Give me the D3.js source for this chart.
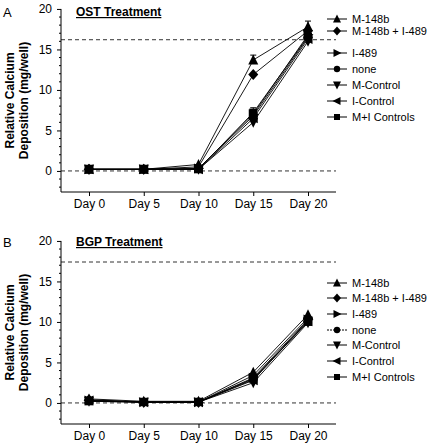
<!DOCTYPE html>
<html><head><meta charset="utf-8">
<script src="https://cdn.jsdelivr.net/npm/d3@7"></script>
<style>body{margin:0;background:#fff}svg{font-family:"Liberation Sans",Arial,Helvetica,sans-serif}</style>
</head><body><svg id="c" width="433" height="444"></svg>
<script>
const days = ["Day 0","Day 5","Day 10","Day 15","Day 20"];
const seriesNames = ["M-148b","M-148b + I-489","I-489","none","M-Control","I-Control","M+I Controls"];
const shapes = ["triUp","diamond","triRight","circle","triDown","triLeft","square"];
// Panel A: OST Treatment
const ostM148b      = [0.2, 0.2, 0.8, 13.7, 17.8];
const ostM148bI489  = [0.2, 0.2, 0.5, 11.9, 17.3];
const ostI489       = [0.2, 0.2, 0.3, 7.0, 16.8];
const ostNone       = [0.2, 0.2, 0.3, 6.8, 16.5];
const ostMControl   = [0.2, 0.2, 0.2, 6.0, 16.0];
const ostIControl   = [0.2, 0.2, 0.2, 6.5, 16.3];
const ostMIControls = [0.2, 0.2, 0.2, 7.2, 16.6];
const ostErr        = [0, 0, 0, 0.6, 0.7];
const ostRef = 16.2;
// Panel B: BGP Treatment
const bgpM148b      = [0.5, 0.2, 0.2, 3.8, 10.9];
const bgpM148bI489  = [0.4, 0.1, 0.1, 3.4, 10.5];
const bgpI489       = [0.3, 0.1, 0.1, 3.1, 10.3];
const bgpNone       = [0.3, 0.1, 0.1, 2.9, 10.2];
const bgpMControl   = [0.2, 0.1, 0.1, 2.5, 9.9];
const bgpIControl   = [0.3, 0.1, 0.1, 2.8, 10.1];
const bgpMIControls = [0.2, 0.1, 0.1, 3.0, 10.0];
const bgpRef = 17.4;
const yTicks = [0, 5, 10, 15, 20];

const svg = d3.select("#c");

function sym(g, shape, x, y, s) {
  const h = s/2;
  let d;
  if (shape === "triUp") d = `M${x},${y-h-1}L${x+h+0.5},${y+h}L${x-h-0.5},${y+h}Z`;
  else if (shape === "triDown") d = `M${x},${y+h+1}L${x+h+0.5},${y-h}L${x-h-0.5},${y-h}Z`;
  else if (shape === "triRight") d = `M${x+h+1},${y}L${x-h},${y-h-0.5}L${x-h},${y+h+0.5}Z`;
  else if (shape === "triLeft") d = `M${x-h-1},${y}L${x+h},${y-h-0.5}L${x+h},${y+h+0.5}Z`;
  else if (shape === "diamond") d = `M${x},${y-h-1}L${x+h+0.5},${y}L${x},${y+h+1}L${x-h-0.5},${y}Z`;
  else if (shape === "square") d = `M${x-h+0.5},${y-h+0.5}h${s-1}v${s-1}h${-(s-1)}Z`;
  if (shape === "circle") g.append("circle").attr("cx", x).attr("cy", y).attr("r", h-0.3).attr("fill","#000");
  else g.append("path").attr("d", d).attr("fill", "#000");
}

function panel(opt) {
  const g = svg.append("g");
  const x = d3.scalePoint().domain(days).range([89, 308]);
  const y = d3.scaleLinear().domain([-2.6, 20]).range([opt.bottom, opt.bottom - 22.6*8.1]);
  const xL = 61, xR = 336;
  [0, opt.ref].forEach(v => {
    g.append("line").attr("x1", xL).attr("x2", xR).attr("y1", y(v)).attr("y2", y(v))
      .attr("stroke", "#333").attr("stroke-width", 1).attr("stroke-dasharray", "4,3");
  });
  const ya = d3.axisLeft(y).tickValues(yTicks).tickSize(4).tickSizeOuter(0).tickPadding(5);
  const yg = g.append("g").attr("transform", `translate(${xL},0)`).call(ya);
  yg.select(".domain").attr("d", `M0,${y(20)}V${y(-2.6)}`);
  yg.selectAll("text").attr("font-size", 12).attr("fill","#000");
  d3.range(-2, 20).filter(v => v % 5 !== 0).forEach(v => {
    g.append("line").attr("x1", xL-2).attr("x2", xL).attr("y1", y(v)).attr("y2", y(v)).attr("stroke","#000");
  });
  const xa = d3.axisBottom(x).tickSize(4).tickSizeOuter(0).tickPadding(3);
  const xg = g.append("g").attr("transform", `translate(0,${y(-2.6)})`).call(xa);
  xg.select(".domain").attr("d", `M${xL},0H${xR}`);
  xg.selectAll("text").attr("font-size", 12).attr("fill","#000");
  const line = d3.line().x((d,i) => x(days[i])).y(d => y(d));
  opt.series.forEach((s) => {
    g.append("path").attr("d", line(s)).attr("fill","none").attr("stroke","#000").attr("stroke-width", 0.9);
  });
  if (opt.err) {
    opt.err.forEach((e, i) => {
      if (!e) return;
      [opt.series[0], opt.series[6]].forEach(s => {
        const cx = x(days[i]);
        g.append("line").attr("x1", cx).attr("x2", cx).attr("y1", y(s[i])).attr("y2", y(s[i]+e)).attr("stroke","#000");
        g.append("line").attr("x1", cx-3).attr("x2", cx+3).attr("y1", y(s[i]+e)).attr("y2", y(s[i]+e)).attr("stroke","#000");
      });
    });
  }
  opt.series.slice().reverse().forEach((s, ri) => {
    const k = opt.series.length - 1 - ri;
    s.forEach((v, i) => sym(g, shapes[k], x(days[i]), y(v), 9));
  });
  opt.legendY.forEach((ly, k) => {
    g.append("line").attr("x1", 327).attr("x2", 347).attr("y1", ly).attr("y2", ly).attr("stroke","#000")
      .attr("stroke-dasharray", (opt.dottedNone && k === 3) ? "2,1" : null);
    sym(g, shapes[k], 337, ly, 7);
    g.append("text").attr("x", 352).attr("y", ly).attr("dy", "0.36em").attr("font-size", 11).text(seriesNames[k]);
  });
  g.append("text").attr("x", 76).attr("y", opt.titleY).attr("font-size", 12).attr("font-weight", "bold")
    .attr("text-decoration", "underline").text(opt.title);
  g.append("text").attr("x", 3).attr("y", opt.titleY + 1).attr("font-size", 13).text(opt.label);
  const cy = (y(20) + y(-2.6)) / 2;
  g.append("text").attr("transform", `translate(14,${cy}) rotate(-90)`).attr("text-anchor","middle")
    .attr("font-size", 12).attr("font-weight","bold").text("Relative Calcium");
  g.append("text").attr("transform", `translate(28,${cy}) rotate(-90)`).attr("text-anchor","middle")
    .attr("font-size", 12).attr("font-weight","bold").text("Deposition (mg/well)");
}

panel({ bottom: 192, ref: ostRef, title: "OST Treatment", label: "A", titleY: 16,
  series: [ostM148b, ostM148bI489, ostI489, ostNone, ostMControl, ostIControl, ostMIControls],
  err: ostErr, legendY: [19, 31, 53, 69, 85, 101, 117] });
panel({ bottom: 424, ref: bgpRef, title: "BGP Treatment", label: "B", titleY: 246, dottedNone: true,
  series: [bgpM148b, bgpM148bI489, bgpI489, bgpNone, bgpMControl, bgpIControl, bgpMIControls],
  legendY: [283, 298, 314, 330, 345, 361, 377] });
</script></body></html>
